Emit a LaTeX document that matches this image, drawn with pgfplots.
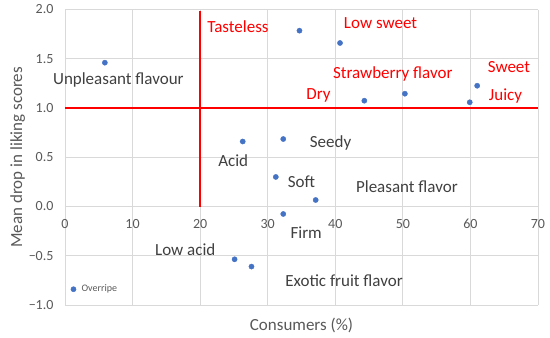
\documentclass[border=0pt]{standalone}
\usepackage{pgfplots}
\pgfplotsset{compat=1.18}
\usepackage{fontspec}
\setmainfont{Carlito}
\definecolor{ptblue}{HTML}{4472C4}
\definecolor{gridgray}{HTML}{D9D9D9}
\definecolor{tickgray}{HTML}{595959}
\definecolor{lblgray}{HTML}{404040}
\definecolor{xred}{HTML}{FF0000}
\begin{document}
\begin{tikzpicture}
\begin{axis}[
  scale only axis,
  width=473pt, height=295.5pt,
  xmin=0, xmax=70, ymin=-1, ymax=2,
  xtick={0,10,...,70},
  ytick={-1,-0.5,0,0.5,1,1.5,2},
  yticklabels={−1.0,−0.5,0.0,0.5,1.0,1.5,2.0},
  xticklabels={0,10,20,30,40,50,60,70},
  major tick length=0pt,
  axis line style={draw=none},
  grid=major,
  major grid style={gridgray, line width=0.8pt},
  tick label style={font=\fontsize{14}{16}\selectfont, text=tickgray},
  xticklabel style={yshift=89pt},
  yticklabel style={xshift=-8pt},
  xlabel={Consumers (\%)},
  ylabel={Mean drop in liking scores},
  label style={font=\fontsize{17}{20}\selectfont, text=tickgray},
  xlabel style={at={(axis description cs:0.5,-0.068)}, anchor=center},
  ylabel style={at={(axis description cs:-0.1,0.5)}, anchor=center},
  clip=false,
  legend style={at={(axis cs:0.84,-0.84)}, anchor=west, draw=none, fill=none,
    font=\fontsize{10}{12}\selectfont, text=tickgray, inner sep=0pt},
  legend image code/.code={\path[draw=none, fill=none] (0pt,0pt) rectangle (8.7pt,0pt);
    \draw[#1] plot coordinates {(2.6pt,0pt)};},
]
\addplot[only marks, mark=*, mark size=2.6pt, color=ptblue] coordinates {
 (5.9,1.46) (26.3,0.66) (34.7,1.785) (40.7,1.66) (44.3,1.074) (50.3,1.145)
 (59.9,1.058) (61.0,1.226) (32.3,0.685) (31.2,0.30) (37.1,0.066)
 (32.3,-0.076) (25.1,-0.536) (27.6,-0.61)
};
\addlegendentry{Overripe}
\addplot[xred, line width=2.2pt, forget plot] coordinates {(0,1) (70,1)};
\addplot[xred, line width=2.2pt, forget plot] coordinates {(20,0) (20,1.98)};
\begin{scope}[every node/.style={font=\fontsize{17}{20}\selectfont, anchor=center}]
\node[text=xred] at (axis cs:25.6,1.83) {Tasteless};
\node[text=xred] at (axis cs:46.7,1.86) {Low sweet};
\node[text=xred] at (axis cs:48.5,1.35) {Strawberry flavor};
\node[text=xred] at (axis cs:65.7,1.42) {Sweet};
\node[text=xred] at (axis cs:37.5,1.125) {Dry};
\node[text=xred] at (axis cs:65.2,1.12) {Juicy};
\node[text=lblgray] at (axis cs:7.9,1.28) {Unpleasant flavour};
\node[text=lblgray] at (axis cs:24.9,0.47) {Acid};
\node[text=lblgray] at (axis cs:39.3,0.65) {Seedy};
\node[text=lblgray] at (axis cs:35.0,0.25) {Soft};
\node[text=lblgray] at (axis cs:50.6,0.20) {Pleasant flavor};
\node[text=lblgray] at (axis cs:35.7,-0.27) {Firm};
\node[text=lblgray] at (axis cs:17.8,-0.44) {Low acid};
\node[text=lblgray] at (axis cs:41.3,-0.75) {Exotic fruit flavor};
\end{scope}
\end{axis}
\pgfresetboundingbox
\path (-65pt,-33pt) rectangle (485pt,305pt);
\end{tikzpicture}
\end{document}
